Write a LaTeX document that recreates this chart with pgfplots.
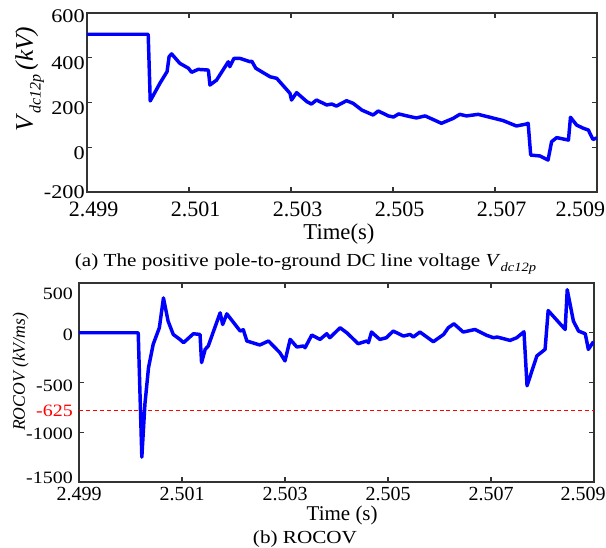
\documentclass[border=0pt]{standalone}
\usepackage{fontspec}
\setmainfont{Liberation Serif}[FakeStretch=1.15]
\newfontfamily\plainserif{Liberation Serif}
\usepackage{pgfplots}
\pgfplotsset{compat=1.18}
\newcommand\lbl[2]{\raisebox{#1}[\height][\depth]{#2}}
\newcommand\hsh[2]{\makebox[0pt]{\hspace*{#1}#2}}
\newcommand\fs[1]{\fontsize{#1}{#1}\selectfont}

\begin{document}
\begin{tikzpicture}
\pgfplotsset{
  panel/.style={
    scale only axis,
    anchor=north west,
    axis line style={black!80, line width=0.9pt},
    tick style={black!80, line width=0.9pt},
    major tick length=3.75pt,
    tick align=inside,
    xmin=2.499, xmax=2.509,
    xtick={2.499,2.501,2.503,2.505,2.507,2.509},
    clip=true,
  },
  curve/.style={color={rgb,255:red,0;green,0;blue,255}, line width=2.6pt, line join=round},
}

% (a) pole-to-ground voltage
\begin{axis}[panel,
  at={(65.25pt,-9.75pt)},
  width=382.5pt, height=134.25pt,
  ymin=-200, ymax=600,
  xticklabels={2.499,2.501,2.503,2.505,2.507,\hsh{-35pt}{2.509}},
  xticklabel style={font=\plainserif\fs{16.5}, anchor=north, inner sep=0pt, yshift=-7.3pt, xshift=5pt},
  ytick={-200,0,200,400,600},
  yticklabels={-200,\lbl{-4.5pt}{0},\lbl{-3.9pt}{200},\lbl{-3.75pt}{400},\lbl{-2.75pt}{600}},
  yticklabel style={font=\fs{14.5}, anchor=east, inner sep=0pt, xshift=-1.5pt},
  xlabel={Time(s)},
  xlabel style={font=\plainserif\fs{17}, at={(axis description cs:0.494,-0.268)}, anchor=base, inner sep=0pt},
  ylabel={\textit{V}\raisebox{-0.3em}{\fs{12}\textit{dc12p}}\,\textit{(kV)}},
  ylabel style={font=\plainserif\fs{19}, at={(axis description cs:-0.106,0.631)}, anchor=base, inner sep=0pt},
]
\addplot[curve] coordinates {
  (2.4990,505) (2.5002,505) (2.50024,207) (2.50043,286) (2.50057,338)
  (2.50061,405) (2.50066,417) (2.50082,375) (2.50099,353) (2.50105,335)
  (2.50118,348) (2.50138,345) (2.50141,278) (2.50154,300) (2.50177,382)
  (2.5018,360) (2.50188,397) (2.5020,397) (2.5022,382) (2.50223,385)
  (2.50231,353) (2.50259,315) (2.50272,308) (2.50298,241) (2.50301,211)
  (2.50311,244) (2.50331,204) (2.5034,193) (2.5035,211) (2.5037,189)
  (2.5038,193) (2.50389,184) (2.50409,208) (2.50422,196) (2.50439,166)
  (2.50461,144) (2.50471,162) (2.50491,140) (2.50501,135) (2.50511,149)
  (2.50533,137) (2.50546,131) (2.50563,140) (2.50595,107) (2.50618,129)
  (2.50631,147) (2.50644,140) (2.50667,147) (2.5069,134) (2.50716,119)
  (2.50742,95) (2.50762,104) (2.50765,107) (2.5077,-35) (2.50788,-39)
  (2.50804,-57) (2.50811,25) (2.50821,43) (2.50844,32) (2.50848,134)
  (2.5086,99) (2.50873,85) (2.50883,77) (2.50892,35) (2.509,42)
};
\end{axis}

% (b) ROCOV
\begin{axis}[panel,
  at={(59.25pt,-212.25pt)},
  width=386.25pt, height=149.25pt,
  ymin=-1500, ymax=500,
  xticklabels={2.499,2.501,2.503,2.505,2.507,\hsh{-16.5pt}{2.509}},
  xticklabel style={font=\plainserif\fs{15}, anchor=north, inner sep=0pt, yshift=-3.75pt},
  ytick={-1500,-1000,-500,0,500},
  yticklabels={\lbl{2.8pt}{-1500},\lbl{-1.2pt}{-1000},\lbl{-2.5pt}{-500},\lbl{-1.7pt}{0},\lbl{-8.2pt}{500}},
  yticklabel style={font=\fs{13}, anchor=east, inner sep=0pt, xshift=-4.5pt},
  extra y ticks={-780},
  extra y tick labels={\lbl{-0.5pt}{-625}},
  extra y tick style={major tick length=0pt, yticklabel style={text=red}},
  xlabel={Time (s)},
  xlabel style={font=\plainserif\fs{15.75}, at={(axis description cs:0.511,-0.191)}, anchor=base, inner sep=0pt},
  ylabel={\textit{ROCOV (kV/ms)}},
  ylabel style={font=\plainserif\fs{13.2}, at={(axis description cs:-0.105,0.553)}, anchor=base, inner sep=0pt},
]
\addplot[red, dashed, line width=0.8pt, dash pattern=on 3pt off 2.2pt] coordinates {(2.499,-780) (2.509,-780)};
\addplot[curve] coordinates {
  (2.4990,0) (2.50015,0) (2.50022,-1250) (2.50028,-717) (2.50035,-350)
  (2.50044,-117) (2.50056,50) (2.50064,350) (2.50073,117) (2.50083,-17)
  (2.50096,-67) (2.50103,-100) (2.50122,-10) (2.50135,-17) (2.50138,-300)
  (2.50145,-167) (2.50151,-133) (2.50174,200) (2.50179,83) (2.50187,190)
  (2.50213,17) (2.50219,30) (2.50226,-83) (2.50251,-123) (2.50268,-83)
  (2.5029,-200) (2.503,-283) (2.5031,-67) (2.50323,-143) (2.50336,-133)
  (2.50339,-150) (2.50352,-23) (2.50368,-67) (2.50381,-10) (2.50387,-50)
  (2.50407,50) (2.5042,0) (2.50442,-110) (2.50459,-83) (2.50462,-100)
  (2.50468,7) (2.50484,-67) (2.50497,-50) (2.5051,17) (2.5053,-33)
  (2.50543,-17) (2.50549,-43) (2.50562,7) (2.50588,-90) (2.50608,-17)
  (2.50617,50) (2.50628,90) (2.50646,7) (2.50669,33) (2.50692,-27)
  (2.50705,-50) (2.50712,-43) (2.50737,-77) (2.5075,-50) (2.50764,10)
  (2.5077,-533) (2.50789,-233) (2.50805,-167) (2.50811,223) (2.50844,33)
  (2.50848,433) (2.5086,117) (2.5087,17) (2.50883,-10) (2.50889,-167)
  (2.50899,-90)
};
\end{axis}

% captions
\node[anchor=base, inner sep=0pt, font=\fs{13.8}] at (229.1pt,-200pt)
  {(a) The positive pole-to-ground DC line voltage \textit{V}\raisebox{-0.25em}{\fs{9.5}\textit{dc12p}}};
\node[anchor=base, inner sep=0pt, font=\fs{13.8}] at (228.75pt,-407.5pt) {(b) ROCOV};

\pgfresetboundingbox
\path[use as bounding box] (0,0) rectangle (454.5pt,-411pt);
\end{tikzpicture}
\end{document}
